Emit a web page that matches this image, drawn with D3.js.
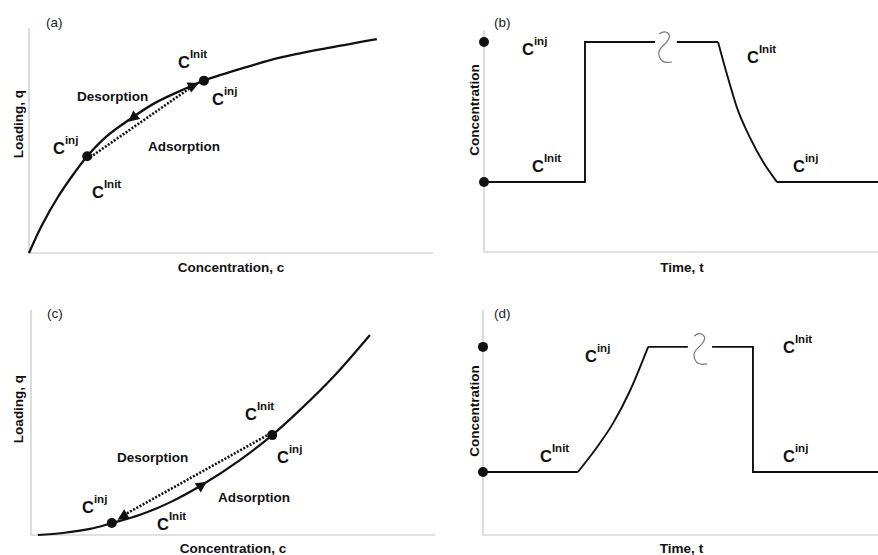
<!DOCTYPE html>
<html><head><meta charset="utf-8">
<script src="https://cdn.jsdelivr.net/npm/d3@7"></script>
<style>
html,body{margin:0;padding:0;background:#fff;}
svg{display:block;font-family:"Liberation Sans",Arial,sans-serif;}
</style></head>
<body><svg id="chart" width="878" height="555"></svg>
<script>
// ---------- data ----------
// (a) favourable (concave) isotherm: [c, q]
const isoA = [[0,0],[0.31,1.2],[0.72,2.5],[1.14,3.6],[1.44,4.3],[1.9,5.15],[2.38,5.8],[3.1,6.65],[3.86,7.3],[4.33,7.66],[5.40,8.27],[6.21,8.68],[7.45,9.13],[8.61,9.51]];
const dotsA = [[1.44,4.3],[4.33,7.66]];
// (c) unfavourable (convex) isotherm
const isoC = [[0.17,0],[0.79,0.09],[1.46,0.27],[2.00,0.53],[2.70,0.90],[3.44,1.45],[4.23,2.22],[5.17,3.33],[5.97,4.44],[6.66,5.56],[7.48,7.02],[8.39,8.89]];
const dotsC = [[2.00,0.53],[5.97,4.44]];
// (b) concentration profile: [t, c]
const levelsB = [3.15, 9.46];
const bStep = [[0,3.15],[2.55,3.15],[2.55,9.46],[4.32,9.46]];
const bPlateau = [[4.87,9.46],[5.91,9.46]];
const bDecay = [[5.91,9.46],[6.14,7.97],[6.39,6.49],[6.72,5.14],[7.05,4.05],[7.40,3.15]];
const bTail = [[7.40,3.15],[10,3.15]];
const breakB = [4.57, 9.46];
// (d) concentration profile
const levelsD = [2.8, 8.36];
const dFlat = [[0,2.8],[2.39,2.8]];
const dRamp = [[2.39,2.8],[2.87,3.9],[3.27,4.95],[3.70,6.4],[4.16,8.36]];
const dPlateau = [[4.16,8.36],[5.16,8.36]];
const dStep = [[5.77,8.36],[6.80,8.36],[6.80,2.8],[10,2.8]];
const breakD = [5.47, 8.36];

const svg = d3.select("#chart");
const ink = "#111";
const axisCol = "#c4c4c4";

function axes(x, y, xLabel, yLabel, xLabelY, yLabelX, yLabelCY, tag, tagX, tagY) {
  const [x0, x1] = x.range(), [y0, y1] = y.range();
  svg.append("line").attr("x1", x0).attr("x2", x0).attr("y1", y1).attr("y2", y0)
    .attr("stroke", axisCol).attr("stroke-width", 1.2);
  svg.append("line").attr("x1", x0).attr("x2", x1).attr("y1", y0).attr("y2", y0)
    .attr("stroke", axisCol).attr("stroke-width", 1.2);
  svg.append("text").attr("x", (x0 + x1) / 2).attr("y", xLabelY).attr("text-anchor", "middle")
    .attr("font-size", 13.5).attr("font-weight", "bold").attr("fill", ink).text(xLabel);
  svg.append("text").attr("transform", `translate(${yLabelX},${yLabelCY}) rotate(-90)`)
    .attr("text-anchor", "middle").attr("font-size", 13.5).attr("font-weight", "bold").attr("fill", ink).text(yLabel);
  svg.append("text").attr("x", tagX).attr("y", tagY).attr("font-size", 13.5).attr("fill", "#222").text(tag);
}

function cLabel(px, py, sup) {
  const t = svg.append("text").attr("x", px).attr("y", py).attr("fill", ink).attr("font-weight", "bold");
  t.append("tspan").attr("font-size", 16.5).text("C");
  t.append("tspan").attr("font-size", 11.5).attr("dy", -10).attr("dx", 0).text(sup);
}
function word(px, py, s) {
  svg.append("text").attr("x", px).attr("y", py).attr("font-size", 13.5).attr("font-weight", "bold")
    .attr("fill", ink).text(s);
}
function arrow(x, y, at, toward) {
  const p = [x(at[0]), y(at[1])], q = [x(toward[0]), y(toward[1])];
  const ang = Math.atan2(q[1] - p[1], q[0] - p[0]) * 180 / Math.PI;
  svg.append("path").attr("d", "M6,0L-5,-5.5L-5,5.5Z").attr("fill", ink)
    .attr("transform", `translate(${p[0]},${p[1]}) rotate(${ang})`);
}
function squiggle(x, y, pt, dy) {
  svg.append("path")
    .attr("d", "M-6,-12C1,-17 9,-12 1,-3C-5,2 -8,6 -5,12C-3,17 2,17 7,16")
    .attr("fill", "none").attr("stroke", "#777").attr("stroke-width", 1.2)
    .attr("transform", `translate(${x(pt[0])},${y(pt[1]) + dy})`);
}
function path(x, y, data, curve, w) {
  const line = d3.line().x(d => x(d[0])).y(d => y(d[1])).curve(curve);
  svg.append("path").attr("d", line(data)).attr("fill", "none").attr("stroke", ink)
    .attr("stroke-width", w).attr("stroke-linejoin", "miter");
}
function dots(x, y, data) {
  svg.selectAll(null).data(data).enter().append("circle")
    .attr("cx", d => x(d[0])).attr("cy", d => y(d[1])).attr("r", 5).attr("fill", ink);
}

// ---------- panel (a) ----------
{
  const x = d3.scaleLinear().domain([0, 10]).range([29, 433]);
  const y = d3.scaleLinear().domain([0, 10]).range([253, 28]);
  axes(x, y, "Concentration, c", "Loading, q", 272, 23, 124, "(a)", 46, 27);
  path(x, y, isoA, d3.curveCatmullRom, 2.3);
  svg.append("line").attr("x1", x(dotsA[0][0]) + 3).attr("y1", y(dotsA[0][1]) + 1)
    .attr("x2", x(dotsA[1][0]) - 9).attr("y2", y(dotsA[1][1]) + 4)
    .attr("stroke", ink).attr("stroke-width", 2.6).attr("stroke-dasharray", "2,1.6");
  dots(x, y, dotsA);
  arrow(x, y, [2.57, 6.0], [1.44, 4.3]);
  arrow(x, y, [4.07, 7.45], [4.33, 7.66]);
  cLabel(178, 68, "Init");
  cLabel(212, 105, "inj");
  cLabel(53, 154, "inj");
  cLabel(92, 198, "Init");
  word(77, 101, "Desorption");
  word(148, 151, "Adsorption");
}

// ---------- panel (b) ----------
{
  const x = d3.scaleLinear().domain([0, 10]).range([484, 880]);
  const y = d3.scaleLinear().domain([0, 10]).range([252, 30]);
  axes(x, y, "Time, t", "Concentration", 272, 479, 110, "(b)", 494, 27);
  path(x, y, bStep, d3.curveLinear, 1.9);
  path(x, y, bPlateau, d3.curveLinear, 1.9);
  path(x, y, bDecay, d3.curveMonotoneX, 1.9);
  path(x, y, bTail, d3.curveLinear, 1.9);
  squiggle(x, y, breakB, 4);
  dots(x, y, levelsB.map(v => [0, v]));
  cLabel(522, 55, "inj");
  cLabel(532, 172, "Init");
  cLabel(747, 63, "Init");
  cLabel(793, 172, "inj");
}

// ---------- panel (c) ----------
{
  const x = d3.scaleLinear().domain([0, 10]).range([31, 435]);
  const y = d3.scaleLinear().domain([0, 10]).range([535, 310]);
  axes(x, y, "Concentration, c", "Loading, q", 553, 23, 409, "(c)", 47, 318);
  path(x, y, isoC, d3.curveCatmullRom, 2.2);
  svg.append("line").attr("x1", x(dotsC[0][0]) + 12).attr("y1", y(dotsC[0][1]) - 8)
    .attr("x2", x(dotsC[1][0]) - 3).attr("y2", y(dotsC[1][1]) - 1)
    .attr("stroke", ink).attr("stroke-width", 2.6).attr("stroke-dasharray", "2,1.6");
  dots(x, y, dotsC);
  arrow(x, y, [2.27, 0.82], [2.0, 0.53]);
  arrow(x, y, [4.23, 2.22], [5.17, 3.33]);
  cLabel(245, 420, "Init");
  cLabel(277, 463, "inj");
  cLabel(82, 513, "inj");
  cLabel(157, 530, "Init");
  word(117, 462, "Desorption");
  word(218, 502, "Adsorption");
}

// ---------- panel (d) ----------
{
  const x = d3.scaleLinear().domain([0, 10]).range([483, 880]);
  const y = d3.scaleLinear().domain([0, 10]).range([535, 310]);
  axes(x, y, "Time, t", "Concentration", 553, 479, 411, "(d)", 494, 318);
  path(x, y, dFlat, d3.curveLinear, 1.9);
  path(x, y, dRamp, d3.curveMonotoneX, 1.9);
  path(x, y, dPlateau, d3.curveLinear, 1.9);
  path(x, y, dStep, d3.curveLinear, 1.9);
  squiggle(x, y, breakD, 1);
  dots(x, y, levelsD.map(v => [0, v]));
  cLabel(585, 362, "inj");
  cLabel(540, 462, "Init");
  cLabel(783, 353, "Init");
  cLabel(783, 462, "inj");
}
</script></body></html>
